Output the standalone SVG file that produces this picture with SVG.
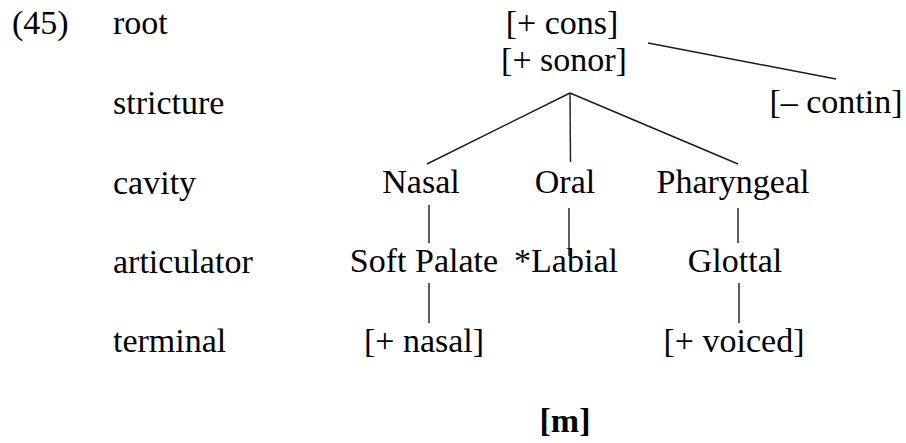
<svg xmlns="http://www.w3.org/2000/svg" width="906" height="443" viewBox="0 0 906 443">
  <style>
    .edge { stroke: #1a1a1a; stroke-width: 1.4; }
  </style>
  <rect width="906" height="443" fill="#fff"/>

  <!-- example number and tier labels -->
  <g id="labels">
    <text x="12" y="34" style="font-family: serif; font-size: 34px">(45)</text>
    <text x="113" y="34" style="font-family: serif; font-size: 34px">root</text>
    <text x="113" y="114" style="font-family: serif; font-size: 34px">stricture</text>
    <text x="113" y="194" style="font-family: serif; font-size: 34px">cavity</text>
    <text x="113" y="273" style="font-family: serif; font-size: 34px">articulator</text>
    <text x="113" y="352" style="font-family: serif; font-size: 34px">terminal</text>
  </g>

  <!-- connectors -->
  <g id="edges">
    <line class="edge" x1="648" y1="43" x2="836" y2="79"/>
    <line class="edge" x1="570" y1="93" x2="427" y2="164"/>
    <line class="edge" x1="570" y1="93" x2="570.5" y2="162"/>
    <line class="edge" x1="570" y1="93" x2="738" y2="164"/>
    <line class="edge" x1="429" y1="205" x2="429" y2="243"/>
    <line class="edge" x1="569" y1="208" x2="569" y2="256"/>
    <line class="edge" x1="738" y1="208" x2="738" y2="243"/>
    <line class="edge" x1="429" y1="283" x2="429" y2="323"/>
    <line class="edge" x1="739" y1="283" x2="739" y2="323"/>
  </g>

  <!-- nodes -->
  <g id="root-node">
    <text x="562" y="34" text-anchor="middle" style="font-family: serif; font-size: 34px">[+ cons]</text>
    <text x="564" y="71" text-anchor="middle" style="font-family: serif; font-size: 34px">[+ sonor]</text>
  </g>
  <g id="contin"><text x="836" y="113" text-anchor="middle" style="font-family: serif; font-size: 34px">[– contin]</text></g>
  <g id="nasal"><text x="421" y="193" text-anchor="middle" style="font-family: serif; font-size: 34px">Nasal</text></g>
  <g id="oral"><text x="565" y="193" text-anchor="middle" style="font-family: serif; font-size: 34px">Oral</text></g>
  <g id="pharyngeal"><text x="733" y="193" text-anchor="middle" style="font-family: serif; font-size: 34px">Pharyngeal</text></g>
  <g id="soft-palate"><text x="424" y="272" text-anchor="middle" style="font-family: serif; font-size: 34px">Soft Palate</text></g>
  <g id="labial"><text x="566" y="272" text-anchor="middle" style="font-family: serif; font-size: 34px">*Labial</text></g>
  <g id="glottal"><text x="735" y="272" text-anchor="middle" style="font-family: serif; font-size: 34px">Glottal</text></g>
  <g id="plus-nasal"><text x="424" y="352" text-anchor="middle" style="font-family: serif; font-size: 34px">[+ nasal]</text></g>
  <g id="plus-voiced"><text x="734" y="352" text-anchor="middle" style="font-family: serif; font-size: 34px">[+ voiced]</text></g>
  <g id="segment"><text x="565" y="432" text-anchor="middle" style="font-family: serif; font-size: 34px; font-weight: bold">[m]</text></g>
</svg>
